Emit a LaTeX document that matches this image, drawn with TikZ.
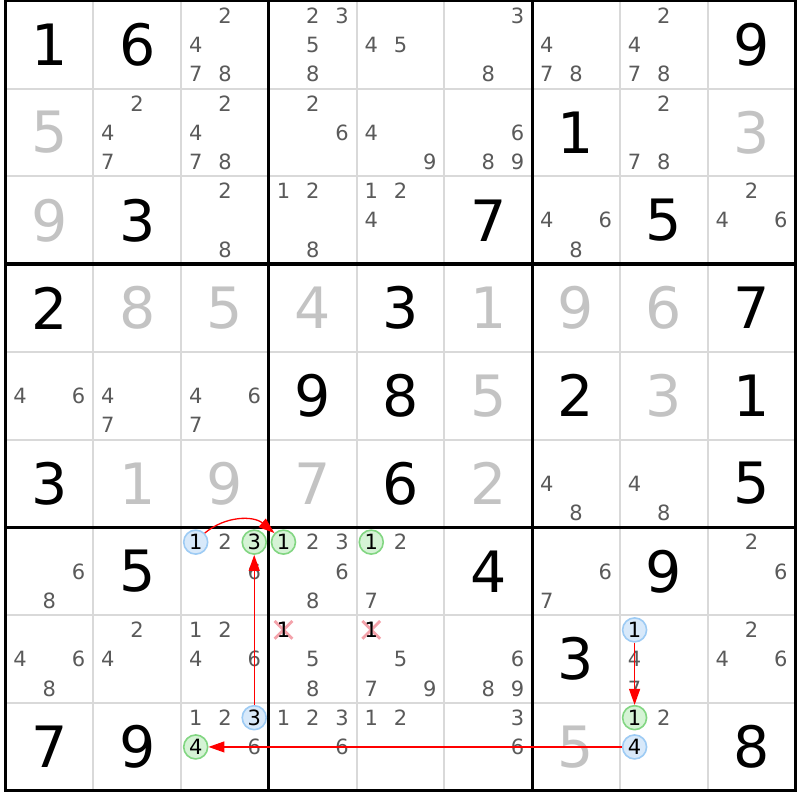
\documentclass[tikz,border=0pt]{standalone}
\usepackage{fontspec}
\setmainfont{DejaVu Sans}
\usetikzlibrary{arrows.meta,shapes.misc}

\definecolor{candgray}{HTML}{5A5A5A}
\definecolor{solvedgray}{HTML}{C3C3C3}
\definecolor{thingray}{HTML}{D9D9D9}
\definecolor{blueedge}{HTML}{9DCBF4}
\definecolor{bluefill}{HTML}{D8E9FA}
\definecolor{greenedge}{HTML}{82D682}
\definecolor{greenfill}{HTML}{D5F3D5}
\definecolor{crosspink}{HTML}{F4A3AB}

\tikzset{
  given/.style={font=\fontsize{57}{57}\selectfont, text=black, inner sep=0pt},
  solved/.style={given, text=solvedgray},
  cand/.style={font=\fontsize{21}{21}\selectfont, text=candgray, inner sep=0pt},
  bluecand/.style={cand, text=black, circle, draw=blueedge, fill=bluefill, line width=1.6pt, minimum size=24pt},
  greencand/.style={bluecand, draw=greenedge, fill=greenfill},
  elim/.style={cross out, draw=crosspink, line width=2.8pt, minimum size=15pt, inner sep=0pt},
  link/.style={red, line width=1.3pt, -{Triangle[length=16pt,width=11pt]}},
}

% cell macros: row, column, digit(s)
\newcommand\givencell[3]{\node[given] (n#1#2) at (#2+.5,#1+.5) {#3};}
\newcommand\solvedcell[3]{\node[solved] (n#1#2) at (#2+.5,#1+.5) {#3};}
\newcommand\pencil[3]{%
  \foreach \d in {#3} {
    \pgfmathsetmacro\candx{#2+(2*mod(\d-1,3)+1)/6}
    \pgfmathsetmacro\candy{#1+(2*floor((\d-1)/3)+1)/6}
    \node[cand] (p#1#2\d) at (\candx,\candy) {\d};
  }}

\begin{document}
\begin{tikzpicture}[x=87.78pt, y=-87.78pt]
    \fill[white] (-0.0627,-0.0091) rectangle (9.051,9.1025);
    \useasboundingbox (-0.0627,-0.0091) rectangle (9.051,9.1025);

    % grid
    \foreach \i in {1,2,4,5,7,8} {
        \draw[thingray, line width=2pt] (\i,0) -- (\i,9);
        \draw[thingray, line width=2pt] (0,\i) -- (9,\i);
    }
    \foreach \i in {3,6} {
        \draw[line width=3.3pt] (\i,0) -- (\i,9);
        \draw[line width=3.3pt] (0,\i) -- (9,\i);
    }
    \draw[line width=3.3pt] (0,0) rectangle (9,9);

    % row 0
    \givencell{0}{0}{1} \givencell{0}{1}{6} \pencil{0}{2}{2,4,7,8}
    \pencil{0}{3}{2,3,5,8} \pencil{0}{4}{4,5} \pencil{0}{5}{3,8}
    \pencil{0}{6}{4,7,8} \pencil{0}{7}{2,4,7,8} \givencell{0}{8}{9}
    % row 1
    \solvedcell{1}{0}{5} \pencil{1}{1}{2,4,7} \pencil{1}{2}{2,4,7,8}
    \pencil{1}{3}{2,6} \pencil{1}{4}{4,9} \pencil{1}{5}{6,8,9}
    \givencell{1}{6}{1} \pencil{1}{7}{2,7,8} \solvedcell{1}{8}{3}
    % row 2
    \solvedcell{2}{0}{9} \givencell{2}{1}{3} \pencil{2}{2}{2,8}
    \pencil{2}{3}{1,2,8} \pencil{2}{4}{1,2,4} \givencell{2}{5}{7}
    \pencil{2}{6}{4,6,8} \givencell{2}{7}{5} \pencil{2}{8}{2,4,6}
    % row 3
    \givencell{3}{0}{2} \solvedcell{3}{1}{8} \solvedcell{3}{2}{5}
    \solvedcell{3}{3}{4} \givencell{3}{4}{3} \solvedcell{3}{5}{1}
    \solvedcell{3}{6}{9} \solvedcell{3}{7}{6} \givencell{3}{8}{7}
    % row 4
    \pencil{4}{0}{4,6} \pencil{4}{1}{4,7} \pencil{4}{2}{4,6,7}
    \givencell{4}{3}{9} \givencell{4}{4}{8} \solvedcell{4}{5}{5}
    \givencell{4}{6}{2} \solvedcell{4}{7}{3} \givencell{4}{8}{1}
    % row 5
    \givencell{5}{0}{3} \solvedcell{5}{1}{1} \solvedcell{5}{2}{9}
    \solvedcell{5}{3}{7} \givencell{5}{4}{6} \solvedcell{5}{5}{2}
    \pencil{5}{6}{4,8} \pencil{5}{7}{4,8} \givencell{5}{8}{5}
    % row 6
    \pencil{6}{0}{6,8} \givencell{6}{1}{5} \pencil{6}{2}{1,2,3,6}
    \pencil{6}{3}{1,2,3,6,8} \pencil{6}{4}{1,2,7} \givencell{6}{5}{4}
    \pencil{6}{6}{6,7} \givencell{6}{7}{9} \pencil{6}{8}{2,6}
    % row 7
    \pencil{7}{0}{4,6,8} \pencil{7}{1}{2,4} \pencil{7}{2}{1,2,4,6}
    \pencil{7}{3}{1,5,8} \pencil{7}{4}{1,5,7,9} \pencil{7}{5}{6,8,9}
    \givencell{7}{6}{3} \pencil{7}{7}{1,4,7} \pencil{7}{8}{2,4,6}
    % row 8
    \givencell{8}{0}{7} \givencell{8}{1}{9} \pencil{8}{2}{1,2,3,4,6}
    \pencil{8}{3}{1,2,3,6} \pencil{8}{4}{1,2} \pencil{8}{5}{3,6}
    \solvedcell{8}{6}{5} \pencil{8}{7}{1,2,4} \givencell{8}{8}{8}

    % eliminated candidates
    \node[elim] (x73) at (p731) {};
    \node[cand, text=black] (e73) at (p731) {1};
    \node[elim] (x74) at (p741) {};
    \node[cand, text=black] (e74) at (p741) {1};

    % chain
    \node[bluecand] (b62) at (p621) {1};
    \node[greencand] (g62) at (p623) {3};
    \node[greencand] (g63) at (p631) {1};
    \node[greencand] (g64) at (p641) {1};
    \node[bluecand] (b77) at (p771) {1};
    \node[bluecand] (b82) at (p823) {3};
    \node[greencand] (g82) at (p824) {4};
    \node[greencand] (g87) at (p871) {1};
    \node[bluecand] (b87) at (p874) {4};

    \draw[link] (b62.north east) to[bend left=40] (g63.north west);
    \draw[link] (b82) -- (g62);
    \draw[link] (b77) -- (g87);
    \draw[link] (b87) -- (g82);
\end{tikzpicture}
\end{document}
